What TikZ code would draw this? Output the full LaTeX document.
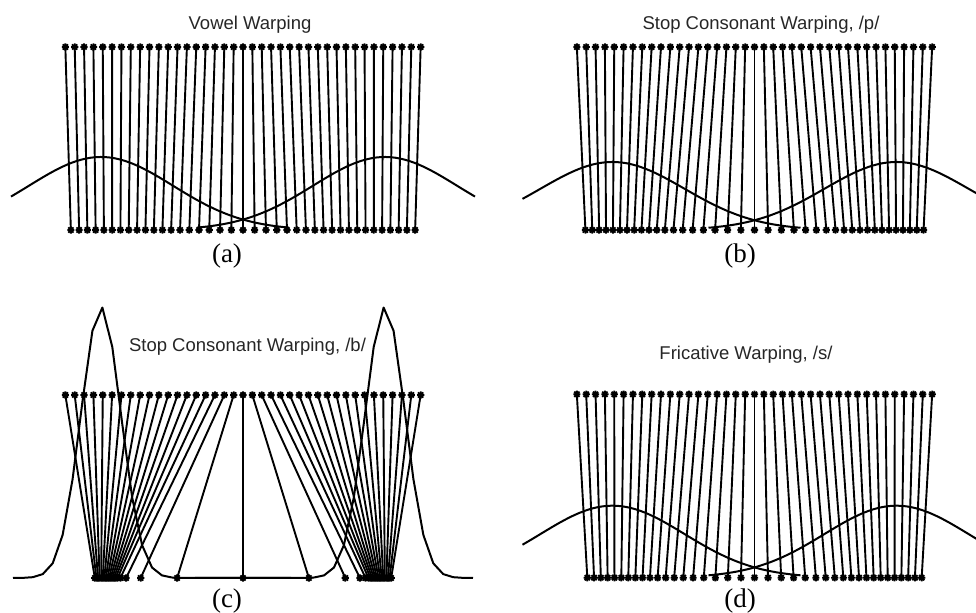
\documentclass[tikz,border=0pt]{standalone}
\usepackage{fontspec}
\setmainfont{Liberation Serif}
\newfontfamily\sansfont{Liberation Sans}
\begin{document}
\begin{tikzpicture}[x=0.5pt, y=-0.5pt,
		noi/.style={line width=0.95pt, black},
		cong/.style={line width=1pt, black, line join=round},
		tieude/.style={anchor=base, font=\sansfont\fontsize{9.25}{11}\selectfont, text=black!85},
		nhan/.style={anchor=base, font=\fontsize{13.5}{16}\selectfont},
		sao/.pic={\draw[line width=0.9pt] (-3.6,0) -- (3.6,0) (0,-3.6) -- (0,3.6) (-2.6,-2.6) -- (2.6,2.6) (-2.6,2.6) -- (2.6,-2.6);}]
	% Khung hinh
	\useasboundingbox (0,0) rectangle (976,613);
	\clip (0,0) rectangle (976,613);
	
	% Cac doan noi: diem tren chia deu, diem duoi bi co gian
	\foreach \cx/\yt/\yb/\ka/\kb/\kw in {243/47/230/8.25/15.4/4.46, 754.5/47/230/6.8/40/5.8, 243/395/578/1.59/118/1.636, 754.5/394.3/577.7/6.7/40/5.8} {
		\foreach \n in {-19,...,19} {
			\pgfmathsetmacro{\xt}{\cx+9.35*(\n)}
			\pgfmathsetmacro{\rr}{max(-4.5,min(4.5,(\n)/\kw))}
			\pgfmathsetmacro{\xb}{\cx+\ka*(\n)+\kb*tanh(\rr)}
			\coordinate (T) at (\xt,\yt);
			\coordinate (D) at (\xb,\yb);
			\draw[noi] (T) -- (D);
			\pic at (T) {sao};
			\pic at (D) {sao};
		}
	}
	
	% Duong cong cua so (a), (b), (d)
	\foreach \cx/\yb/\A in {243/230/73, 754.5/230/68, 754.5/577.7/72} {
		\draw[cong] plot[domain=\cx-232:\cx+46, samples=60] (\x, {\yb-\A*exp(-0.5*((\x-\cx+142)/72)^2)});
		\draw[cong] plot[domain=\cx-46:\cx+232, samples=60] (\x, {\yb-\A*exp(-0.5*((\x-\cx-142)/72)^2)});
	}
	
	% Duong cong hep (c)
	\draw[cong] plot[domain=13:291, samples=29] (\x, {578-271*exp(-min(12,0.5*((\x-101)/20)^2))});
	\draw[cong] plot[domain=195:473, samples=29] (\x, {578-271*exp(-min(12,0.5*((\x-385)/20)^2))});
	
	% Tieu de va nhan
	\node[tieude] (tdA) at (250,29.3) {Vowel Warping};
	\node[tieude] (tdB) at (761,29.3) {Stop Consonant Warping, /p/};
	\node[tieude] (tdC) at (247.5,351.7) {Stop Consonant Warping, /b/};
	\node[tieude] (tdD) at (746,360) {Fricative Warping, /s/};
	\node[nhan] (nA) at (227,263) {(a)};
	\node[nhan] (nB) at (740,263) {(b)};
	\node[nhan] (nC) at (227,608) {(c)};
	\node[nhan] (nD) at (740,608) {(d)};
\end{tikzpicture}
\end{document}
